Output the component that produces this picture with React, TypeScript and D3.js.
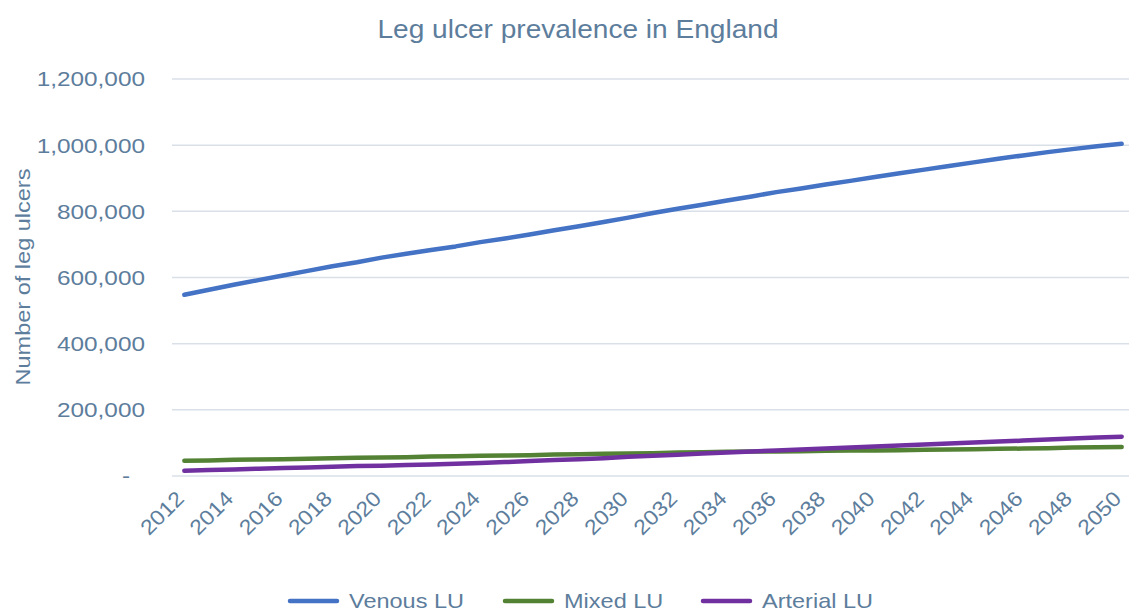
import { useEffect, useRef } from 'react'
import * as d3 from 'd3'

const years = d3.range(2012, 2051)
const venous = [
  548000, 563000, 578000, 592000, 606000, 620000, 634000, 646000, 660000, 672000,
  683000, 694000, 707000, 718000, 730000, 743000, 755000, 768000, 781000, 795000,
  808000, 820000, 833000, 845000, 858000, 869000, 881000, 892000, 904000, 915000,
  926000, 937000, 948000, 959000, 969000, 979000, 988000, 997000, 1004000,
]
const mixed = [
  46000, 47000, 49000, 50000, 51000, 52000, 54000, 55000, 56000, 57000,
  59000, 60000, 61000, 62000, 63000, 65000, 66000, 67000, 68000, 69000,
  71000, 72000, 73000, 74000, 74000, 75000, 76000, 77000, 77000, 78000,
  79000, 80000, 81000, 82000, 83000, 84000, 86000, 87000, 88000,
]
const arterial = [
  16000, 18000, 20000, 22000, 24000, 26000, 28000, 30000, 31000, 33000,
  35000, 37000, 39000, 42000, 45000, 48000, 51000, 54000, 58000, 61000,
  64000, 68000, 71000, 74000, 77000, 80000, 83000, 86000, 89000, 92000,
  95000, 98000, 101000, 104000, 107000, 110000, 113000, 116000, 119000,
]
const yTicks = [0, 200000, 400000, 600000, 800000, 1000000, 1200000]

const series = [
  { name: 'Venous LU', values: venous, color: '#4472c4' },
  { name: 'Mixed LU', values: mixed, color: '#548235' },
  { name: 'Arterial LU', values: arterial, color: '#7030a0' },
]

const W = 1129
const H = 610
const textColor = '#5d7d9c'
const font = '"Liberation Sans", Arial, sans-serif'

export default function App() {
  const svgRef = useRef<SVGSVGElement | null>(null)

  useEffect(() => {
    if (!svgRef.current) return
    const svg = d3.select(svgRef.current)
    svg.selectAll('*').remove()

    const left = 172
    const right = 1134
    const top = 79
    const bottom = 476

    const x = d3
      .scalePoint<number>()
      .domain(years)
      .range([left, right])
      .padding(0.5)

    const y = d3.scaleLinear().domain([0, 1200000]).range([bottom, top])

    // text in the source is a bit wider than Liberation Sans, so stretch it
    svg
      .append('text')
      .attr('transform', 'translate(578,38) scale(1.08,1)')
      .attr('text-anchor', 'middle')
      .attr('font-family', font)
      .attr('font-size', 26)
      .attr('fill', textColor)
      .text('Leg ulcer prevalence in England')

    // gridlines
    svg
      .append('g')
      .selectAll('line')
      .data(yTicks)
      .join('line')
      .attr('x1', left)
      .attr('x2', right)
      .attr('y1', d => y(d))
      .attr('y2', d => y(d))
      .attr('stroke', '#d9e0e8')
      .attr('stroke-width', 1.5)

    // y tick labels
    svg
      .append('g')
      .selectAll('text')
      .data(yTicks)
      .join('text')
      .attr('transform', d => `translate(${d === 0 ? 130 : 145},${y(d)}) scale(1.16,1)`)
      .attr('dy', '0.35em')
      .attr('text-anchor', 'end')
      .attr('font-family', font)
      .attr('font-size', 21)
      .attr('fill', textColor)
      .text(d => (d === 0 ? '-' : d3.format(',')(d)))

    svg
      .append('text')
      .attr('transform', 'translate(30,277) rotate(-90) scale(1.12,1)')
      .attr('text-anchor', 'middle')
      .attr('font-family', font)
      .attr('font-size', 21)
      .attr('fill', textColor)
      .text('Number of leg ulcers')

    // x tick labels
    svg
      .append('g')
      .selectAll('text')
      .data(years.filter(d => d % 2 === 0))
      .join('text')
      .attr('transform', d => `translate(${(x(d) ?? 0) + 1},${500}) rotate(-45) scale(1.1,1)`)
      .attr('text-anchor', 'end')
      .attr('font-family', font)
      .attr('font-size', 21)
      .attr('fill', textColor)
      .text(d => String(d))

    const line = d3
      .line<number>()
      .x((_, i) => x(years[i]) ?? 0)
      .y(d => y(d))

    svg
      .append('g')
      .selectAll('path')
      .data(series)
      .join('path')
      .attr('d', d => line(d.values))
      .attr('fill', 'none')
      .attr('stroke', d => d.color)
      .attr('stroke-width', 4.5)
      .attr('stroke-linecap', 'round')
      .attr('stroke-linejoin', 'round')

    // legend
    const legendX = [288, 503, 701]
    const lg = svg
      .append('g')
      .selectAll('g')
      .data(series)
      .join('g')
      .attr('transform', (_, i) => `translate(${legendX[i]},${601})`)
    lg.append('line')
      .attr('x1', 2)
      .attr('x2', 49)
      .attr('stroke', d => d.color)
      .attr('stroke-width', 4.5)
      .attr('stroke-linecap', 'round')
    lg.append('text')
      .attr('transform', 'translate(61,0) scale(1.12,1)')
      .attr('dy', '0.35em')
      .attr('font-family', font)
      .attr('font-size', 21)
      .attr('fill', textColor)
      .text(d => d.name)
  }, [])

  return (
    <div style={{ position: 'absolute', left: 0, top: 0 }}>
      <svg ref={svgRef} width={W} height={H} style={{ display: 'block', background: '#fff' }} />
    </div>
  )
}
